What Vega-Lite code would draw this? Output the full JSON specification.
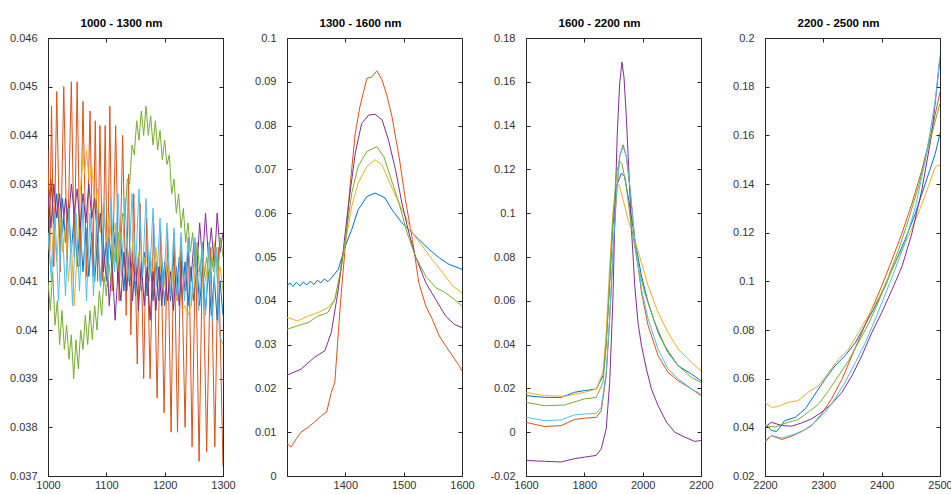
{
"$schema": "https://vega.github.io/schema/vega-lite/v6.json",
"background": "white",
"padding": {"left": 8, "top": 17, "right": 2, "bottom": 2},
"spacing": 64,
"bounds": "flush",
"config": {
  "font": "Liberation Sans",
  "view": {"stroke": "#262626", "strokeWidth": 1},
  "axis": {"domain": false, "grid": false, "tickSize": -4, "tickColor": "#262626", "tickWidth": 1, "labelFont": "Liberation Sans", "labelFontSize": 11, "labelColor": "#333333", "labelFlush": false, "labelOverlap": false, "title": null},
  "axisBottom": {"labelPadding": 7, "labelDx": -4, "format": "d"},
  "axisLeft": {"labelPadding": 15, "labelDy": -3},
  "title": {"font": "Liberation Sans", "fontSize": 11.5, "fontWeight": "bold", "color": "#000000", "baseline": "alphabetic", "offset": 3, "dx": -14}
},
"datasets": {
"p1": [
{"s":"1","x":1000,"y":0.0425},{"s":"1","x":1005,"y":0.0431},{"s":"1","x":1010,"y":0.0421},{"s":"1","x":1015,"y":0.0428},{"s":"1","x":1020,"y":0.0419},{"s":"1","x":1025,"y":0.0427},{"s":"1","x":1030,"y":0.0418},{"s":"1","x":1035,"y":0.0426},{"s":"1","x":1040,"y":0.0416},{"s":"1","x":1045,"y":0.0424},{"s":"1","x":1050,"y":0.0413},{"s":"1","x":1055,"y":0.0422},{"s":"1","x":1060,"y":0.0412},{"s":"1","x":1065,"y":0.0421},{"s":"1","x":1070,"y":0.0411},{"s":"1","x":1075,"y":0.042},{"s":"1","x":1080,"y":0.041},{"s":"1","x":1085,"y":0.0419},{"s":"1","x":1090,"y":0.0409},{"s":"1","x":1095,"y":0.0418},{"s":"1","x":1100,"y":0.041},{"s":"1","x":1105,"y":0.0419},{"s":"1","x":1110,"y":0.0412},{"s":"1","x":1115,"y":0.042},{"s":"1","x":1120,"y":0.041},{"s":"1","x":1125,"y":0.0418},{"s":"1","x":1130,"y":0.0408},{"s":"1","x":1135,"y":0.0417},{"s":"1","x":1140,"y":0.0409},{"s":"1","x":1145,"y":0.0416},{"s":"1","x":1150,"y":0.0407},{"s":"1","x":1155,"y":0.0415},{"s":"1","x":1160,"y":0.0408},{"s":"1","x":1165,"y":0.0416},{"s":"1","x":1170,"y":0.0407},{"s":"1","x":1175,"y":0.0415},{"s":"1","x":1180,"y":0.0406},{"s":"1","x":1185,"y":0.0414},{"s":"1","x":1190,"y":0.0406},{"s":"1","x":1195,"y":0.0414},{"s":"1","x":1200,"y":0.0405},{"s":"1","x":1205,"y":0.0414},{"s":"1","x":1210,"y":0.0406},{"s":"1","x":1215,"y":0.0415},{"s":"1","x":1220,"y":0.0407},{"s":"1","x":1225,"y":0.0415},{"s":"1","x":1230,"y":0.0406},{"s":"1","x":1235,"y":0.0414},{"s":"1","x":1240,"y":0.0405},{"s":"1","x":1245,"y":0.0413},{"s":"1","x":1250,"y":0.0406},{"s":"1","x":1255,"y":0.0414},{"s":"1","x":1260,"y":0.0405},{"s":"1","x":1265,"y":0.0413},{"s":"1","x":1270,"y":0.0404},{"s":"1","x":1275,"y":0.0412},{"s":"1","x":1280,"y":0.0403},{"s":"1","x":1285,"y":0.0411},{"s":"1","x":1290,"y":0.0402},{"s":"1","x":1295,"y":0.041},{"s":"1","x":1300,"y":0.0403},
{"s":"2","x":1000,"y":0.0437},{"s":"2","x":1003,"y":0.0416},{"s":"2","x":1006,"y":0.0446},{"s":"2","x":1010,"y":0.0413},{"s":"2","x":1015,"y":0.0449},{"s":"2","x":1021,"y":0.0412},{"s":"2","x":1027,"y":0.045},{"s":"2","x":1033,"y":0.0414},{"s":"2","x":1040,"y":0.0451},{"s":"2","x":1045,"y":0.0415},{"s":"2","x":1050,"y":0.0451},{"s":"2","x":1055,"y":0.0413},{"s":"2","x":1060,"y":0.0447},{"s":"2","x":1066,"y":0.0411},{"s":"2","x":1072,"y":0.0445},{"s":"2","x":1077,"y":0.0411},{"s":"2","x":1081,"y":0.0443},{"s":"2","x":1085,"y":0.041},{"s":"2","x":1089,"y":0.0442},{"s":"2","x":1094,"y":0.041},{"s":"2","x":1098,"y":0.0442},{"s":"2","x":1102,"y":0.0409},{"s":"2","x":1106,"y":0.0446},{"s":"2","x":1110,"y":0.0408},{"s":"2","x":1116,"y":0.0442},{"s":"2","x":1122,"y":0.0406},{"s":"2","x":1128,"y":0.044},{"s":"2","x":1134,"y":0.0403},{"s":"2","x":1138,"y":0.0432},{"s":"2","x":1142,"y":0.0399},{"s":"2","x":1147,"y":0.0428},{"s":"2","x":1153,"y":0.0393},{"s":"2","x":1158,"y":0.0426},{"s":"2","x":1164,"y":0.039},{"s":"2","x":1169,"y":0.0423},{"s":"2","x":1175,"y":0.039},{"s":"2","x":1181,"y":0.0422},{"s":"2","x":1187,"y":0.0386},{"s":"2","x":1193,"y":0.0421},{"s":"2","x":1199,"y":0.0383},{"s":"2","x":1205,"y":0.042},{"s":"2","x":1211,"y":0.0379},{"s":"2","x":1216,"y":0.042},{"s":"2","x":1222,"y":0.0379},{"s":"2","x":1228,"y":0.0419},{"s":"2","x":1235,"y":0.038},{"s":"2","x":1241,"y":0.0419},{"s":"2","x":1247,"y":0.0376},{"s":"2","x":1253,"y":0.0418},{"s":"2","x":1259,"y":0.0373},{"s":"2","x":1265,"y":0.0418},{"s":"2","x":1272,"y":0.0375},{"s":"2","x":1279,"y":0.0417},{"s":"2","x":1286,"y":0.0376},{"s":"2","x":1292,"y":0.0417},{"s":"2","x":1300,"y":0.0372},
{"s":"3","x":1000,"y":0.042},{"s":"3","x":1005,"y":0.0412},{"s":"3","x":1010,"y":0.0422},{"s":"3","x":1015,"y":0.0414},{"s":"3","x":1020,"y":0.0424},{"s":"3","x":1025,"y":0.0416},{"s":"3","x":1030,"y":0.0421},{"s":"3","x":1035,"y":0.041},{"s":"3","x":1040,"y":0.0418},{"s":"3","x":1045,"y":0.0405},{"s":"3","x":1050,"y":0.0416},{"s":"3","x":1055,"y":0.0428},{"s":"3","x":1060,"y":0.0436},{"s":"3","x":1063,"y":0.0432},{"s":"3","x":1066,"y":0.0437},{"s":"3","x":1070,"y":0.0431},{"s":"3","x":1075,"y":0.0434},{"s":"3","x":1080,"y":0.0425},{"s":"3","x":1085,"y":0.0429},{"s":"3","x":1090,"y":0.042},{"s":"3","x":1095,"y":0.0426},{"s":"3","x":1100,"y":0.0418},{"s":"3","x":1105,"y":0.0424},{"s":"3","x":1110,"y":0.0416},{"s":"3","x":1115,"y":0.0422},{"s":"3","x":1120,"y":0.0414},{"s":"3","x":1125,"y":0.042},{"s":"3","x":1130,"y":0.0413},{"s":"3","x":1135,"y":0.0419},{"s":"3","x":1140,"y":0.0411},{"s":"3","x":1145,"y":0.0418},{"s":"3","x":1150,"y":0.041},{"s":"3","x":1155,"y":0.0416},{"s":"3","x":1160,"y":0.0409},{"s":"3","x":1165,"y":0.0415},{"s":"3","x":1170,"y":0.041},{"s":"3","x":1175,"y":0.0416},{"s":"3","x":1180,"y":0.0411},{"s":"3","x":1185,"y":0.0417},{"s":"3","x":1190,"y":0.041},{"s":"3","x":1195,"y":0.0415},{"s":"3","x":1200,"y":0.0409},{"s":"3","x":1205,"y":0.0414},{"s":"3","x":1210,"y":0.0408},{"s":"3","x":1215,"y":0.0413},{"s":"3","x":1220,"y":0.0406},{"s":"3","x":1225,"y":0.0411},{"s":"3","x":1230,"y":0.0404},{"s":"3","x":1235,"y":0.0405},{"s":"3","x":1240,"y":0.0403},{"s":"3","x":1245,"y":0.0405},{"s":"3","x":1250,"y":0.0409},{"s":"3","x":1255,"y":0.0414},{"s":"3","x":1260,"y":0.0411},{"s":"3","x":1265,"y":0.0416},{"s":"3","x":1270,"y":0.041},{"s":"3","x":1275,"y":0.0415},{"s":"3","x":1280,"y":0.0412},{"s":"3","x":1285,"y":0.0418},{"s":"3","x":1290,"y":0.0411},{"s":"3","x":1295,"y":0.0413},{"s":"3","x":1300,"y":0.0408},
{"s":"4","x":1000,"y":0.0428},{"s":"4","x":1005,"y":0.0421},{"s":"4","x":1010,"y":0.043},{"s":"4","x":1015,"y":0.0423},{"s":"4","x":1020,"y":0.0428},{"s":"4","x":1025,"y":0.042},{"s":"4","x":1030,"y":0.0427},{"s":"4","x":1035,"y":0.0422},{"s":"4","x":1040,"y":0.043},{"s":"4","x":1045,"y":0.0424},{"s":"4","x":1050,"y":0.0429},{"s":"4","x":1055,"y":0.0421},{"s":"4","x":1060,"y":0.0428},{"s":"4","x":1065,"y":0.0422},{"s":"4","x":1070,"y":0.043},{"s":"4","x":1075,"y":0.0423},{"s":"4","x":1080,"y":0.0427},{"s":"4","x":1085,"y":0.0418},{"s":"4","x":1090,"y":0.0424},{"s":"4","x":1095,"y":0.0412},{"s":"4","x":1100,"y":0.0418},{"s":"4","x":1105,"y":0.0405},{"s":"4","x":1110,"y":0.0414},{"s":"4","x":1115,"y":0.0402},{"s":"4","x":1120,"y":0.0412},{"s":"4","x":1125,"y":0.0406},{"s":"4","x":1130,"y":0.0416},{"s":"4","x":1135,"y":0.0408},{"s":"4","x":1140,"y":0.0417},{"s":"4","x":1145,"y":0.0406},{"s":"4","x":1150,"y":0.0415},{"s":"4","x":1155,"y":0.0404},{"s":"4","x":1160,"y":0.0414},{"s":"4","x":1165,"y":0.0405},{"s":"4","x":1170,"y":0.0413},{"s":"4","x":1175,"y":0.0402},{"s":"4","x":1180,"y":0.0412},{"s":"4","x":1185,"y":0.0404},{"s":"4","x":1190,"y":0.0413},{"s":"4","x":1195,"y":0.0405},{"s":"4","x":1200,"y":0.0414},{"s":"4","x":1205,"y":0.0406},{"s":"4","x":1210,"y":0.0412},{"s":"4","x":1215,"y":0.0404},{"s":"4","x":1220,"y":0.0413},{"s":"4","x":1225,"y":0.0405},{"s":"4","x":1230,"y":0.0414},{"s":"4","x":1235,"y":0.0408},{"s":"4","x":1240,"y":0.0416},{"s":"4","x":1245,"y":0.041},{"s":"4","x":1250,"y":0.0418},{"s":"4","x":1255,"y":0.0412},{"s":"4","x":1260,"y":0.0422},{"s":"4","x":1265,"y":0.0414},{"s":"4","x":1270,"y":0.0424},{"s":"4","x":1275,"y":0.0415},{"s":"4","x":1280,"y":0.0421},{"s":"4","x":1285,"y":0.0413},{"s":"4","x":1290,"y":0.0424},{"s":"4","x":1295,"y":0.0416},{"s":"4","x":1300,"y":0.042},
{"s":"5","x":1000,"y":0.041},{"s":"5","x":1004,"y":0.0404},{"s":"5","x":1008,"y":0.0412},{"s":"5","x":1012,"y":0.0401},{"s":"5","x":1016,"y":0.0406},{"s":"5","x":1020,"y":0.0397},{"s":"5","x":1024,"y":0.0404},{"s":"5","x":1028,"y":0.0396},{"s":"5","x":1032,"y":0.0401},{"s":"5","x":1036,"y":0.0394},{"s":"5","x":1040,"y":0.0399},{"s":"5","x":1044,"y":0.039},{"s":"5","x":1048,"y":0.0398},{"s":"5","x":1052,"y":0.0392},{"s":"5","x":1056,"y":0.04},{"s":"5","x":1060,"y":0.0396},{"s":"5","x":1064,"y":0.0403},{"s":"5","x":1068,"y":0.0397},{"s":"5","x":1072,"y":0.0404},{"s":"5","x":1076,"y":0.0398},{"s":"5","x":1080,"y":0.0405},{"s":"5","x":1084,"y":0.04},{"s":"5","x":1088,"y":0.0408},{"s":"5","x":1092,"y":0.0403},{"s":"5","x":1096,"y":0.0411},{"s":"5","x":1100,"y":0.0407},{"s":"5","x":1104,"y":0.0414},{"s":"5","x":1108,"y":0.041},{"s":"5","x":1112,"y":0.0417},{"s":"5","x":1116,"y":0.0414},{"s":"5","x":1120,"y":0.042},{"s":"5","x":1124,"y":0.0417},{"s":"5","x":1128,"y":0.0424},{"s":"5","x":1132,"y":0.0423},{"s":"5","x":1136,"y":0.0431},{"s":"5","x":1140,"y":0.043},{"s":"5","x":1144,"y":0.0438},{"s":"5","x":1148,"y":0.0436},{"s":"5","x":1152,"y":0.0443},{"s":"5","x":1156,"y":0.0439},{"s":"5","x":1160,"y":0.0445},{"s":"5","x":1164,"y":0.044},{"s":"5","x":1168,"y":0.0446},{"s":"5","x":1172,"y":0.044},{"s":"5","x":1176,"y":0.0444},{"s":"5","x":1180,"y":0.0438},{"s":"5","x":1184,"y":0.0443},{"s":"5","x":1188,"y":0.0437},{"s":"5","x":1192,"y":0.0441},{"s":"5","x":1196,"y":0.0435},{"s":"5","x":1200,"y":0.0439},{"s":"5","x":1204,"y":0.0434},{"s":"5","x":1208,"y":0.0436},{"s":"5","x":1212,"y":0.0428},{"s":"5","x":1216,"y":0.0431},{"s":"5","x":1220,"y":0.0424},{"s":"5","x":1224,"y":0.0428},{"s":"5","x":1228,"y":0.0421},{"s":"5","x":1232,"y":0.0425},{"s":"5","x":1236,"y":0.0418},{"s":"5","x":1240,"y":0.0422},{"s":"5","x":1244,"y":0.0416},{"s":"5","x":1248,"y":0.042},{"s":"5","x":1252,"y":0.0413},{"s":"5","x":1256,"y":0.0418},{"s":"5","x":1260,"y":0.0412},{"s":"5","x":1264,"y":0.0416},{"s":"5","x":1268,"y":0.0411},{"s":"5","x":1272,"y":0.0415},{"s":"5","x":1276,"y":0.0411},{"s":"5","x":1280,"y":0.0415},{"s":"5","x":1284,"y":0.0412},{"s":"5","x":1288,"y":0.0417},{"s":"5","x":1292,"y":0.0413},{"s":"5","x":1296,"y":0.0419},{"s":"5","x":1300,"y":0.0415},
{"s":"6","x":1000,"y":0.042},{"s":"6","x":1006,"y":0.041},{"s":"6","x":1012,"y":0.0424},{"s":"6","x":1018,"y":0.0406},{"s":"6","x":1024,"y":0.0423},{"s":"6","x":1030,"y":0.0407},{"s":"6","x":1036,"y":0.0425},{"s":"6","x":1042,"y":0.0405},{"s":"6","x":1048,"y":0.0424},{"s":"6","x":1054,"y":0.0408},{"s":"6","x":1060,"y":0.0426},{"s":"6","x":1066,"y":0.0406},{"s":"6","x":1072,"y":0.0424},{"s":"6","x":1078,"y":0.0407},{"s":"6","x":1084,"y":0.0425},{"s":"6","x":1090,"y":0.0409},{"s":"6","x":1096,"y":0.0426},{"s":"6","x":1102,"y":0.0411},{"s":"6","x":1108,"y":0.0427},{"s":"6","x":1114,"y":0.0412},{"s":"6","x":1120,"y":0.0428},{"s":"6","x":1126,"y":0.0411},{"s":"6","x":1132,"y":0.0427},{"s":"6","x":1138,"y":0.041},{"s":"6","x":1144,"y":0.0428},{"s":"6","x":1150,"y":0.0412},{"s":"6","x":1156,"y":0.0429},{"s":"6","x":1162,"y":0.0411},{"s":"6","x":1168,"y":0.0427},{"s":"6","x":1174,"y":0.041},{"s":"6","x":1180,"y":0.0425},{"s":"6","x":1186,"y":0.0409},{"s":"6","x":1192,"y":0.0423},{"s":"6","x":1198,"y":0.0408},{"s":"6","x":1204,"y":0.0422},{"s":"6","x":1210,"y":0.0407},{"s":"6","x":1216,"y":0.0421},{"s":"6","x":1222,"y":0.0406},{"s":"6","x":1228,"y":0.042},{"s":"6","x":1234,"y":0.0406},{"s":"6","x":1240,"y":0.0419},{"s":"6","x":1246,"y":0.0405},{"s":"6","x":1252,"y":0.0419},{"s":"6","x":1258,"y":0.0404},{"s":"6","x":1264,"y":0.0418},{"s":"6","x":1270,"y":0.0403},{"s":"6","x":1276,"y":0.0418},{"s":"6","x":1282,"y":0.0402},{"s":"6","x":1288,"y":0.0417},{"s":"6","x":1294,"y":0.0399},{"s":"6","x":1300,"y":0.0397}
],
"p2": [
{"s":"1","x":1300,"y":0.0434},{"s":"1","x":1305,"y":0.0441},{"s":"1","x":1310,"y":0.0433},{"s":"1","x":1316,"y":0.0442},{"s":"1","x":1322,"y":0.0434},{"s":"1","x":1328,"y":0.0443},{"s":"1","x":1334,"y":0.0436},{"s":"1","x":1340,"y":0.0445},{"s":"1","x":1346,"y":0.0437},{"s":"1","x":1352,"y":0.0447},{"s":"1","x":1358,"y":0.0441},{"s":"1","x":1364,"y":0.045},{"s":"1","x":1370,"y":0.0444},{"s":"1","x":1376,"y":0.0452},{"s":"1","x":1388,"y":0.0472},{"s":"1","x":1400,"y":0.0525},{"s":"1","x":1411,"y":0.0563},{"s":"1","x":1422,"y":0.0608},{"s":"1","x":1437,"y":0.0638},{"s":"1","x":1451,"y":0.0646},{"s":"1","x":1468,"y":0.0635},{"s":"1","x":1480,"y":0.0608},{"s":"1","x":1497,"y":0.0578},{"s":"1","x":1509,"y":0.0563},{"s":"1","x":1526,"y":0.054},{"s":"1","x":1544,"y":0.0517},{"s":"1","x":1561,"y":0.0498},{"s":"1","x":1578,"y":0.0483},{"s":"1","x":1600,"y":0.0472},
{"s":"2","x":1300,"y":0.0074},{"s":"2","x":1307,"y":0.0066},{"s":"2","x":1316,"y":0.0085},{"s":"2","x":1324,"y":0.01},{"s":"2","x":1336,"y":0.0111},{"s":"2","x":1347,"y":0.0123},{"s":"2","x":1359,"y":0.0138},{"s":"2","x":1368,"y":0.0146},{"s":"2","x":1376,"y":0.0191},{"s":"2","x":1382,"y":0.0214},{"s":"2","x":1388,"y":0.0328},{"s":"2","x":1393,"y":0.0418},{"s":"2","x":1400,"y":0.0525},{"s":"2","x":1408,"y":0.0661},{"s":"2","x":1417,"y":0.0782},{"s":"2","x":1425,"y":0.0843},{"s":"2","x":1437,"y":0.0908},{"s":"2","x":1445,"y":0.0911},{"s":"2","x":1454,"y":0.0925},{"s":"2","x":1463,"y":0.0904},{"s":"2","x":1471,"y":0.087},{"s":"2","x":1480,"y":0.082},{"s":"2","x":1492,"y":0.073},{"s":"2","x":1503,"y":0.0631},{"s":"2","x":1515,"y":0.054},{"s":"2","x":1526,"y":0.0441},{"s":"2","x":1538,"y":0.0388},{"s":"2","x":1549,"y":0.0358},{"s":"2","x":1561,"y":0.032},{"s":"2","x":1572,"y":0.0297},{"s":"2","x":1584,"y":0.0274},{"s":"2","x":1595,"y":0.0252},{"s":"2","x":1600,"y":0.024},
{"s":"3","x":1300,"y":0.0362},{"s":"3","x":1318,"y":0.0354},{"s":"3","x":1336,"y":0.0365},{"s":"3","x":1353,"y":0.0373},{"s":"3","x":1370,"y":0.0384},{"s":"3","x":1382,"y":0.0403},{"s":"3","x":1391,"y":0.0456},{"s":"3","x":1400,"y":0.0532},{"s":"3","x":1411,"y":0.0616},{"s":"3","x":1422,"y":0.0669},{"s":"3","x":1437,"y":0.0707},{"s":"3","x":1451,"y":0.0722},{"s":"3","x":1463,"y":0.071},{"s":"3","x":1474,"y":0.0676},{"s":"3","x":1489,"y":0.0631},{"s":"3","x":1503,"y":0.0593},{"s":"3","x":1515,"y":0.0555},{"s":"3","x":1532,"y":0.0525},{"s":"3","x":1549,"y":0.0494},{"s":"3","x":1567,"y":0.0464},{"s":"3","x":1584,"y":0.0434},{"s":"3","x":1600,"y":0.0418},
{"s":"4","x":1300,"y":0.023},{"s":"4","x":1324,"y":0.0244},{"s":"4","x":1347,"y":0.0271},{"s":"4","x":1365,"y":0.0286},{"s":"4","x":1376,"y":0.0328},{"s":"4","x":1388,"y":0.0426},{"s":"4","x":1396,"y":0.051},{"s":"4","x":1405,"y":0.0616},{"s":"4","x":1417,"y":0.0737},{"s":"4","x":1428,"y":0.0805},{"s":"4","x":1440,"y":0.0824},{"s":"4","x":1451,"y":0.0826},{"s":"4","x":1463,"y":0.0813},{"s":"4","x":1474,"y":0.0767},{"s":"4","x":1486,"y":0.0699},{"s":"4","x":1497,"y":0.0623},{"s":"4","x":1509,"y":0.0555},{"s":"4","x":1520,"y":0.0502},{"s":"4","x":1538,"y":0.0441},{"s":"4","x":1555,"y":0.0403},{"s":"4","x":1572,"y":0.0365},{"s":"4","x":1587,"y":0.0346},{"s":"4","x":1600,"y":0.0339},
{"s":"5","x":1300,"y":0.0335},{"s":"5","x":1318,"y":0.0343},{"s":"5","x":1336,"y":0.035},{"s":"5","x":1353,"y":0.0365},{"s":"5","x":1370,"y":0.0373},{"s":"5","x":1382,"y":0.0403},{"s":"5","x":1391,"y":0.0464},{"s":"5","x":1400,"y":0.054},{"s":"5","x":1411,"y":0.0646},{"s":"5","x":1422,"y":0.0707},{"s":"5","x":1437,"y":0.0741},{"s":"5","x":1454,"y":0.0752},{"s":"5","x":1466,"y":0.0729},{"s":"5","x":1477,"y":0.0684},{"s":"5","x":1492,"y":0.0623},{"s":"5","x":1506,"y":0.0555},{"s":"5","x":1520,"y":0.0502},{"s":"5","x":1538,"y":0.0456},{"s":"5","x":1555,"y":0.043},{"s":"5","x":1572,"y":0.0418},{"s":"5","x":1587,"y":0.0403},{"s":"5","x":1600,"y":0.0388}
],
"p3": [
{"s":"1","x":1600,"y":0.0167},{"s":"1","x":1663,"y":0.0159},{"s":"1","x":1720,"y":0.0159},{"s":"1","x":1766,"y":0.0182},{"s":"1","x":1800,"y":0.019},{"s":"1","x":1841,"y":0.0197},{"s":"1","x":1864,"y":0.0258},{"s":"1","x":1875,"y":0.0409},{"s":"1","x":1887,"y":0.0682},{"s":"1","x":1898,"y":0.094},{"s":"1","x":1910,"y":0.1122},{"s":"1","x":1927,"y":0.1183},{"s":"1","x":1938,"y":0.1168},{"s":"1","x":1956,"y":0.1031},{"s":"1","x":1973,"y":0.0879},{"s":"1","x":1996,"y":0.0713},{"s":"1","x":2019,"y":0.0591},{"s":"1","x":2053,"y":0.0455},{"s":"1","x":2087,"y":0.0364},{"s":"1","x":2122,"y":0.0303},{"s":"1","x":2168,"y":0.0265},{"s":"1","x":2200,"y":0.0235},
{"s":"2","x":1600,"y":0.0045},{"s":"2","x":1663,"y":0.0026},{"s":"2","x":1720,"y":0.003},{"s":"2","x":1766,"y":0.0058},{"s":"2","x":1800,"y":0.0064},{"s":"2","x":1841,"y":0.0068},{"s":"2","x":1858,"y":0.0099},{"s":"2","x":1875,"y":0.0258},{"s":"2","x":1887,"y":0.0516},{"s":"2","x":1898,"y":0.0804},{"s":"2","x":1910,"y":0.1077},{"s":"2","x":1921,"y":0.1259},{"s":"2","x":1933,"y":0.1312},{"s":"2","x":1944,"y":0.1259},{"s":"2","x":1956,"y":0.1122},{"s":"2","x":1973,"y":0.0879},{"s":"2","x":1996,"y":0.0637},{"s":"2","x":2019,"y":0.0485},{"s":"2","x":2053,"y":0.0349},{"s":"2","x":2087,"y":0.0273},{"s":"2","x":2122,"y":0.0235},{"s":"2","x":2168,"y":0.0197},{"s":"2","x":2200,"y":0.0167},
{"s":"3","x":1600,"y":0.0182},{"s":"3","x":1663,"y":0.0167},{"s":"3","x":1732,"y":0.0164},{"s":"3","x":1800,"y":0.0182},{"s":"3","x":1841,"y":0.0197},{"s":"3","x":1864,"y":0.0273},{"s":"3","x":1875,"y":0.0455},{"s":"3","x":1887,"y":0.0758},{"s":"3","x":1898,"y":0.1001},{"s":"3","x":1910,"y":0.1122},{"s":"3","x":1919,"y":0.113},{"s":"3","x":1933,"y":0.1061},{"s":"3","x":1950,"y":0.097},{"s":"3","x":1973,"y":0.0879},{"s":"3","x":1996,"y":0.0773},{"s":"3","x":2019,"y":0.0667},{"s":"3","x":2053,"y":0.0546},{"s":"3","x":2087,"y":0.0455},{"s":"3","x":2122,"y":0.0379},{"s":"3","x":2168,"y":0.0318},{"s":"3","x":2200,"y":0.028},
{"s":"4","x":1600,"y":-0.0129},{"s":"4","x":1663,"y":-0.0133},{"s":"4","x":1720,"y":-0.0136},{"s":"4","x":1766,"y":-0.0121},{"s":"4","x":1800,"y":-0.0114},{"s":"4","x":1841,"y":-0.0106},{"s":"4","x":1858,"y":-0.0076},{"s":"4","x":1875,"y":0.0015},{"s":"4","x":1887,"y":0.0227},{"s":"4","x":1898,"y":0.0607},{"s":"4","x":1906,"y":0.106},{"s":"4","x":1913,"y":0.1365},{"s":"4","x":1921,"y":0.159},{"s":"4","x":1929,"y":0.169},{"s":"4","x":1936,"y":0.162},{"s":"4","x":1944,"y":0.144},{"s":"4","x":1952,"y":0.1213},{"s":"4","x":1961,"y":0.094},{"s":"4","x":1973,"y":0.0667},{"s":"4","x":1984,"y":0.05},{"s":"4","x":1996,"y":0.0394},{"s":"4","x":2013,"y":0.0288},{"s":"4","x":2030,"y":0.0197},{"s":"4","x":2053,"y":0.0121},{"s":"4","x":2082,"y":0.0045},{"s":"4","x":2110,"y":0.0},{"s":"4","x":2145,"y":-0.0023},{"s":"4","x":2179,"y":-0.0042},{"s":"4","x":2200,"y":-0.0038},
{"s":"5","x":1600,"y":0.0136},{"s":"5","x":1663,"y":0.0121},{"s":"5","x":1732,"y":0.0124},{"s":"5","x":1800,"y":0.0152},{"s":"5","x":1841,"y":0.0159},{"s":"5","x":1864,"y":0.0227},{"s":"5","x":1875,"y":0.0394},{"s":"5","x":1887,"y":0.0698},{"s":"5","x":1898,"y":0.097},{"s":"5","x":1910,"y":0.1183},{"s":"5","x":1921,"y":0.1236},{"s":"5","x":1929,"y":0.1228},{"s":"5","x":1944,"y":0.1122},{"s":"5","x":1961,"y":0.094},{"s":"5","x":1984,"y":0.0758},{"s":"5","x":2007,"y":0.0637},{"s":"5","x":2042,"y":0.05},{"s":"5","x":2076,"y":0.0394},{"s":"5","x":2122,"y":0.0303},{"s":"5","x":2168,"y":0.025},{"s":"5","x":2200,"y":0.0227},
{"s":"6","x":1600,"y":0.0068},{"s":"6","x":1663,"y":0.0053},{"s":"6","x":1720,"y":0.0056},{"s":"6","x":1766,"y":0.0079},{"s":"6","x":1800,"y":0.0083},{"s":"6","x":1841,"y":0.0086},{"s":"6","x":1858,"y":0.0114},{"s":"6","x":1875,"y":0.0273},{"s":"6","x":1887,"y":0.0531},{"s":"6","x":1898,"y":0.0819},{"s":"6","x":1910,"y":0.1092},{"s":"6","x":1921,"y":0.1259},{"s":"6","x":1933,"y":0.1304},{"s":"6","x":1944,"y":0.1259},{"s":"6","x":1956,"y":0.1122},{"s":"6","x":1973,"y":0.0879},{"s":"6","x":1996,"y":0.0652},{"s":"6","x":2019,"y":0.0516},{"s":"6","x":2053,"y":0.0379},{"s":"6","x":2087,"y":0.0288},{"s":"6","x":2122,"y":0.0243},{"s":"6","x":2168,"y":0.0197},{"s":"6","x":2200,"y":0.0174}
],
"p4": [
{"s":"1","x":2200,"y":0.0414},{"s":"1","x":2211,"y":0.0387},{"s":"1","x":2220,"y":0.0383},{"s":"1","x":2234,"y":0.0428},{"s":"1","x":2252,"y":0.0441},{"s":"1","x":2269,"y":0.0476},{"s":"1","x":2286,"y":0.0537},{"s":"1","x":2303,"y":0.0598},{"s":"1","x":2320,"y":0.0653},{"s":"1","x":2337,"y":0.0694},{"s":"1","x":2355,"y":0.0748},{"s":"1","x":2372,"y":0.0823},{"s":"1","x":2389,"y":0.0898},{"s":"1","x":2406,"y":0.098},{"s":"1","x":2423,"y":0.1076},{"s":"1","x":2440,"y":0.1171},{"s":"1","x":2458,"y":0.128},{"s":"1","x":2475,"y":0.1403},{"s":"1","x":2492,"y":0.1526},{"s":"1","x":2500,"y":0.1608},
{"s":"2","x":2200,"y":0.0339},{"s":"2","x":2211,"y":0.0366},{"s":"2","x":2229,"y":0.035},{"s":"2","x":2246,"y":0.0364},{"s":"2","x":2263,"y":0.0383},{"s":"2","x":2280,"y":0.0407},{"s":"2","x":2297,"y":0.0455},{"s":"2","x":2314,"y":0.0517},{"s":"2","x":2332,"y":0.0598},{"s":"2","x":2349,"y":0.0694},{"s":"2","x":2366,"y":0.0789},{"s":"2","x":2383,"y":0.0885},{"s":"2","x":2400,"y":0.098},{"s":"2","x":2418,"y":0.109},{"s":"2","x":2435,"y":0.1199},{"s":"2","x":2452,"y":0.1321},{"s":"2","x":2469,"y":0.1458},{"s":"2","x":2486,"y":0.1622},{"s":"2","x":2500,"y":0.1778},
{"s":"3","x":2200,"y":0.0503},{"s":"3","x":2211,"y":0.0482},{"s":"3","x":2223,"y":0.0486},{"s":"3","x":2240,"y":0.0503},{"s":"3","x":2257,"y":0.051},{"s":"3","x":2274,"y":0.0544},{"s":"3","x":2292,"y":0.0571},{"s":"3","x":2309,"y":0.0626},{"s":"3","x":2326,"y":0.068},{"s":"3","x":2343,"y":0.0721},{"s":"3","x":2360,"y":0.0789},{"s":"3","x":2377,"y":0.0858},{"s":"3","x":2395,"y":0.0933},{"s":"3","x":2412,"y":0.1014},{"s":"3","x":2429,"y":0.1103},{"s":"3","x":2446,"y":0.1185},{"s":"3","x":2463,"y":0.128},{"s":"3","x":2480,"y":0.139},{"s":"3","x":2492,"y":0.1471},{"s":"3","x":2500,"y":0.1478},
{"s":"4","x":2200,"y":0.0401},{"s":"4","x":2211,"y":0.0421},{"s":"4","x":2229,"y":0.0407},{"s":"4","x":2246,"y":0.0405},{"s":"4","x":2263,"y":0.0418},{"s":"4","x":2280,"y":0.0435},{"s":"4","x":2297,"y":0.0462},{"s":"4","x":2314,"y":0.0496},{"s":"4","x":2332,"y":0.0544},{"s":"4","x":2349,"y":0.0612},{"s":"4","x":2366,"y":0.0694},{"s":"4","x":2383,"y":0.0789},{"s":"4","x":2400,"y":0.0871},{"s":"4","x":2418,"y":0.0967},{"s":"4","x":2435,"y":0.1062},{"s":"4","x":2452,"y":0.1199},{"s":"4","x":2469,"y":0.1376},{"s":"4","x":2486,"y":0.1608},{"s":"4","x":2500,"y":0.1915},
{"s":"5","x":2200,"y":0.0407},{"s":"5","x":2217,"y":0.0401},{"s":"5","x":2240,"y":0.0421},{"s":"5","x":2257,"y":0.0432},{"s":"5","x":2274,"y":0.0462},{"s":"5","x":2292,"y":0.0496},{"s":"5","x":2309,"y":0.0551},{"s":"5","x":2326,"y":0.0612},{"s":"5","x":2343,"y":0.0673},{"s":"5","x":2360,"y":0.0748},{"s":"5","x":2377,"y":0.0823},{"s":"5","x":2395,"y":0.0919},{"s":"5","x":2412,"y":0.1021},{"s":"5","x":2429,"y":0.113},{"s":"5","x":2446,"y":0.1253},{"s":"5","x":2463,"y":0.139},{"s":"5","x":2480,"y":0.1553},{"s":"5","x":2500,"y":0.1731},
{"s":"6","x":2200,"y":0.0346},{"s":"6","x":2211,"y":0.0366},{"s":"6","x":2229,"y":0.0356},{"s":"6","x":2252,"y":0.0373},{"s":"6","x":2269,"y":0.0391},{"s":"6","x":2286,"y":0.0421},{"s":"6","x":2303,"y":0.0462},{"s":"6","x":2320,"y":0.0517},{"s":"6","x":2337,"y":0.0585},{"s":"6","x":2355,"y":0.0667},{"s":"6","x":2372,"y":0.0748},{"s":"6","x":2389,"y":0.0844},{"s":"6","x":2406,"y":0.0946},{"s":"6","x":2423,"y":0.1049},{"s":"6","x":2440,"y":0.1158},{"s":"6","x":2458,"y":0.1308},{"s":"6","x":2475,"y":0.1499},{"s":"6","x":2492,"y":0.1744},{"s":"6","x":2500,"y":0.1929}
]
},
"hconcat": [
{
 "width": 175, "height": 438,
 "title": "1000 - 1300 nm",
 "data": {"name": "p1"},
 "layer": [
  {"mark": {"type": "line", "strokeWidth": 1, "clip": true},
   "encoding": {
    "x": {"field": "x", "type": "quantitative", "scale": {"domain": [1000, 1300], "nice": false, "zero": false}, "axis": {"orient": "bottom", "values": [1000, 1100, 1200, 1300]}},
    "y": {"field": "y", "type": "quantitative", "scale": {"domain": [0.037, 0.046], "nice": false, "zero": false}, "axis": {"orient": "left", "values": [0.037, 0.038, 0.039, 0.04, 0.041, 0.042, 0.043, 0.044, 0.045, 0.046], "labelExpr": "replace(format(datum.value, '~g'), '\u2212', '-')"}},
    "color": {"field": "s", "type": "nominal", "scale": {"domain": ["1","2","3","4","5","6"], "range": ["#0072BD","#D95319","#EDB120","#7E2F8E","#77AC30","#4DBEEE"]}, "legend": null}
   }},
  {"mark": {"type": "line", "strokeOpacity": 0},
   "encoding": {
    "x": {"field": "x", "type": "quantitative", "scale": {"domain": [1000, 1300], "nice": false, "zero": false}, "axis": {"orient": "top", "labels": false, "values": [1000, 1100, 1200, 1300]}},
    "y": {"field": "y", "type": "quantitative", "scale": {"domain": [0.037, 0.046], "nice": false, "zero": false}, "axis": {"orient": "right", "labels": false, "values": [0.037, 0.038, 0.039, 0.04, 0.041, 0.042, 0.043, 0.044, 0.045, 0.046]}},
    "detail": {"field": "s"}
   }}
 ],
 "resolve": {"axis": {"x": "independent", "y": "independent"}}
},
{
 "width": 175, "height": 438,
 "title": "1300 - 1600 nm",
 "data": {"name": "p2"},
 "layer": [
  {"mark": {"type": "line", "strokeWidth": 1, "clip": true},
   "encoding": {
    "x": {"field": "x", "type": "quantitative", "scale": {"domain": [1300, 1600], "nice": false, "zero": false}, "axis": {"orient": "bottom", "values": [1400, 1500, 1600]}},
    "y": {"field": "y", "type": "quantitative", "scale": {"domain": [0, 0.1], "nice": false, "zero": false}, "axis": {"orient": "left", "values": [0, 0.01, 0.02, 0.03, 0.04, 0.05, 0.06, 0.07, 0.08, 0.09, 0.1], "labelExpr": "replace(format(datum.value, '~g'), '\u2212', '-')"}},
    "color": {"field": "s", "type": "nominal", "scale": {"domain": ["1","2","3","4","5","6"], "range": ["#0072BD","#D95319","#EDB120","#7E2F8E","#77AC30","#4DBEEE"]}, "legend": null}
   }},
  {"mark": {"type": "line", "strokeOpacity": 0},
   "encoding": {
    "x": {"field": "x", "type": "quantitative", "scale": {"domain": [1300, 1600], "nice": false, "zero": false}, "axis": {"orient": "top", "labels": false, "values": [1400, 1500, 1600]}},
    "y": {"field": "y", "type": "quantitative", "scale": {"domain": [0, 0.1], "nice": false, "zero": false}, "axis": {"orient": "right", "labels": false, "values": [0, 0.01, 0.02, 0.03, 0.04, 0.05, 0.06, 0.07, 0.08, 0.09, 0.1]}},
    "detail": {"field": "s"}
   }}
 ],
 "resolve": {"axis": {"x": "independent", "y": "independent"}}
},
{
 "width": 175, "height": 438,
 "title": "1600 - 2200 nm",
 "data": {"name": "p3"},
 "layer": [
  {"mark": {"type": "line", "strokeWidth": 1, "clip": true},
   "encoding": {
    "x": {"field": "x", "type": "quantitative", "scale": {"domain": [1600, 2200], "nice": false, "zero": false}, "axis": {"orient": "bottom", "values": [1600, 1800, 2000, 2200]}},
    "y": {"field": "y", "type": "quantitative", "scale": {"domain": [-0.02, 0.18], "nice": false, "zero": false}, "axis": {"orient": "left", "values": [-0.02, 0, 0.02, 0.04, 0.06, 0.08, 0.1, 0.12, 0.14, 0.16, 0.18], "labelExpr": "replace(format(datum.value, '~g'), '\u2212', '-')"}},
    "color": {"field": "s", "type": "nominal", "scale": {"domain": ["1","2","3","4","5","6"], "range": ["#0072BD","#D95319","#EDB120","#7E2F8E","#77AC30","#4DBEEE"]}, "legend": null}
   }},
  {"mark": {"type": "line", "strokeOpacity": 0},
   "encoding": {
    "x": {"field": "x", "type": "quantitative", "scale": {"domain": [1600, 2200], "nice": false, "zero": false}, "axis": {"orient": "top", "labels": false, "values": [1600, 1800, 2000, 2200]}},
    "y": {"field": "y", "type": "quantitative", "scale": {"domain": [-0.02, 0.18], "nice": false, "zero": false}, "axis": {"orient": "right", "labels": false, "values": [-0.02, 0, 0.02, 0.04, 0.06, 0.08, 0.1, 0.12, 0.14, 0.16, 0.18]}},
    "detail": {"field": "s"}
   }}
 ],
 "resolve": {"axis": {"x": "independent", "y": "independent"}}
},
{
 "width": 175, "height": 438,
 "title": "2200 - 2500 nm",
 "data": {"name": "p4"},
 "layer": [
  {"mark": {"type": "line", "strokeWidth": 1, "clip": true},
   "encoding": {
    "x": {"field": "x", "type": "quantitative", "scale": {"domain": [2200, 2500], "nice": false, "zero": false}, "axis": {"orient": "bottom", "values": [2200, 2300, 2400, 2500]}},
    "y": {"field": "y", "type": "quantitative", "scale": {"domain": [0.02, 0.2], "nice": false, "zero": false}, "axis": {"orient": "left", "values": [0.02, 0.04, 0.06, 0.08, 0.1, 0.12, 0.14, 0.16, 0.18, 0.2], "labelExpr": "replace(format(datum.value, '~g'), '\u2212', '-')"}},
    "color": {"field": "s", "type": "nominal", "scale": {"domain": ["1","2","3","4","5","6"], "range": ["#0072BD","#D95319","#EDB120","#7E2F8E","#77AC30","#4DBEEE"]}, "legend": null}
   }},
  {"mark": {"type": "line", "strokeOpacity": 0},
   "encoding": {
    "x": {"field": "x", "type": "quantitative", "scale": {"domain": [2200, 2500], "nice": false, "zero": false}, "axis": {"orient": "top", "labels": false, "values": [2200, 2300, 2400, 2500]}},
    "y": {"field": "y", "type": "quantitative", "scale": {"domain": [0.02, 0.2], "nice": false, "zero": false}, "axis": {"orient": "right", "labels": false, "values": [0.02, 0.04, 0.06, 0.08, 0.1, 0.12, 0.14, 0.16, 0.18, 0.2]}},
    "detail": {"field": "s"}
   }}
 ],
 "resolve": {"axis": {"x": "independent", "y": "independent"}}
}
]
}
